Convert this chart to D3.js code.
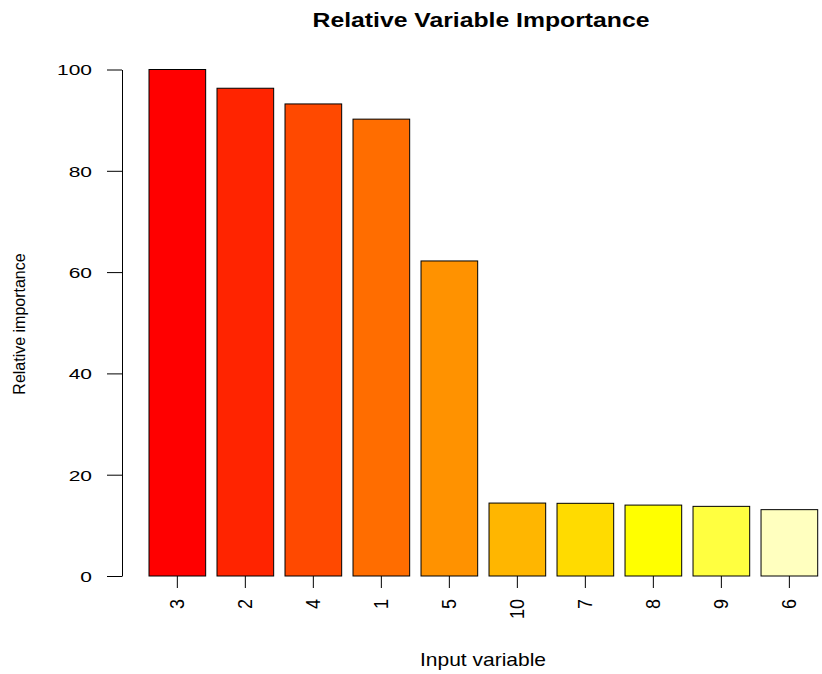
<!DOCTYPE html>
<html>
<head>
<meta charset="utf-8">
<script src="https://cdn.jsdelivr.net/npm/d3@7"></script>
<style>
  html, body { margin: 0; padding: 0; background: #fff; }
  svg { display: block; }
  text { font-family: "Liberation Sans", Arial, Helvetica, sans-serif; fill: #000; }
</style>
</head>
<body>
<script>
const categories = ["3", "2", "4", "1", "5", "10", "7", "8", "9", "6"];
const values = [100, 96.3, 93.2, 90.2, 62.2, 14.4, 14.35, 14.0, 13.75, 13.1];
const colors = ["#FF0000", "#FF2400", "#FF4900", "#FF6D00", "#FF9200",
                "#FFB600", "#FFDB00", "#FFFF00", "#FFFF40", "#FFFFBF"];
const yTicks = [0, 20, 40, 60, 80, 100];
const title = "Relative Variable Importance";
const xTitle = "Input variable";
const yTitle = "Relative importance";

const W = 822, H = 674;
const svg = d3.select("body").append("svg").attr("width", W).attr("height", H);

const x = d3.scaleBand().domain(categories).range([149, 817.7])
  .paddingInner(1 / 6).paddingOuter(0);
const y = d3.scaleLinear().domain([0, 100]).range([576, 69.5]);

// bars
svg.append("g").selectAll("rect").data(categories).join("rect")
  .attr("x", d => x(d))
  .attr("y", (d, i) => y(values[i]))
  .attr("width", x.bandwidth())
  .attr("height", (d, i) => y(0) - y(values[i]))
  .attr("fill", (d, i) => colors[i])
  .attr("stroke", "#000")
  .attr("stroke-width", 1);

// y axis
const yAxis = svg.append("g").attr("transform", "translate(122,0)")
  .call(d3.axisLeft(y).tickValues(yTicks).tickSize(15).tickSizeOuter(0).tickFormat(d3.format("d")));
yAxis.select(".domain").attr("stroke", "#000");
yAxis.selectAll(".tick line").attr("stroke", "#000");
yAxis.selectAll(".tick text").remove();
yAxis.selectAll(".tick").append("text")
  .attr("transform", "translate(-30,0) scale(1.4,1)")
  .attr("text-anchor", "end")
  .attr("dy", "0.36em")
  .attr("font-size", 15)
  .text(d => d);

// x axis (ticks only, no line)
const xAxis = svg.append("g").attr("transform", "translate(0,576)")
  .call(d3.axisBottom(x).tickSize(12).tickSizeOuter(0));
xAxis.select(".domain").remove();
xAxis.selectAll(".tick line").attr("stroke", "#000");
xAxis.selectAll(".tick text").remove();
xAxis.selectAll(".tick").append("text")
  .attr("transform", "translate(0,23) scale(1.08,1) rotate(-90)")
  .attr("text-anchor", "end")
  .attr("dy", "0.36em")
  .attr("font-size", 18)
  .text(d => d);

// title
svg.append("text")
  .attr("transform", "translate(481,27.3) scale(1.27,1)")
  .attr("text-anchor", "middle")
  .attr("font-weight", "bold")
  .attr("font-size", 19.5)
  .text(title);

// x title
svg.append("text")
  .attr("transform", "translate(483,666) scale(1.2,1)")
  .attr("text-anchor", "middle")
  .attr("font-size", 17.5)
  .text(xTitle);

// y title
svg.append("text")
  .attr("transform", "translate(25,324) scale(1.05,1) rotate(-90)")
  .attr("text-anchor", "middle")
  .attr("font-size", 16)
  .text(yTitle);
</script>
</body>
</html>
